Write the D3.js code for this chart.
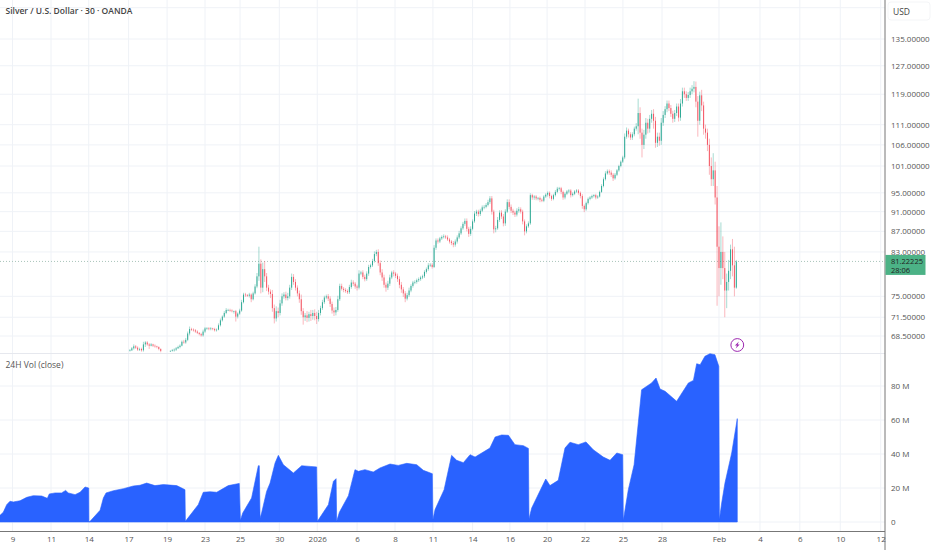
<!DOCTYPE html>
<html lang="en">

<head>
    <meta charset="UTF-8">
    <script src="https://cdnjs.cloudflare.com/ajax/libs/d3/7.9.0/d3.min.js"></script>
    <title>Silver / U.S. Dollar</title>
    <style>
        body {
            margin: 0;
            background-color: white;
            font-family: "Open Sans", sans-serif;
        }

        svg {
            display: block;
        }

        .axis text {
            fill: #555;
            font-size: 8px;
            font-family: "Open Sans", sans-serif;
        }

        .axis path,
        .axis line {
            display: none;
        }
    </style>
</head>

<body>
    <div id="content"></div>
    <script>
        const width = 932;
        const height = 550;

        // x axis runs in trading days counted from the "9" label
        const dateLabels = ["9", "11", "14", "17", "19", "23", "25", "30", "2026", "6", "8", "11", "14", "16", "20", "22", "25", "28", "Feb", "4", "6", "10", "12"];
        const dateTicks = [0, 2, 3.96, 6.03, 8.03, 10, 11.82, 13.86, 15.83, 17.9, 19.87, 21.84, 23.9, 25.84, 27.77, 29.74, 31.71, 33.74, 36.7, 38.83, 40.9, 43, 45.1];

        const priceTicks = [135, 127, 119, 111, 106, 101, 95, 91, 87, 83, 75, 71.5, 68.5];
        const volumeTicks = [0, 20, 40, 60, 80];
        const lastPrice = 81.22225;

        // one candle every 0.1 day, first one at day 6.1
        const candleStart = 6.1;
        const candleStep = 0.1;
        const closes = [
            66.3, 66.6, 66.9, 66.7, 66.4, 66.5, 66.3, 67.2, 67.5, 67.2,
            67.0, 67.2, 67.0, 66.9, 66.8, 66.5, 66.2, null, null, null,
            null, 66.2, 66.3, 66.4, 66.6, 66.8, 67.0, 67.6, 67.5, 67.9,
            68.9, 69.6, 69.5, 69.4, 69.2, 69.0, 68.8, 68.6, 69.2, 69.7,
            69.7, 69.6, 69.7, 69.6, 69.4, 69.5, 70.2, 71.0, 71.6, 72.2,
            72.7, 72.7, 72.6, 72.5, 72.5, 71.6, 72.1, 72.6, 74.0, 75.3,
            75.2, 75.1, 75.3, 74.5, 75.5, 76.7, 78.5, 80.8, 76.5, 79.8,
            78.5, 76.5, 75.8, 75.4, 73.0, 71.3, 72.5, 72.2, 73.8, 75.0,
            75.3, 74.7, 75.0, 76.5, 78.4, 77.5, 76.5, 75.5, 74.5, 72.5,
            71.5, 71.8, 71.4, 72.0, 71.7, 72.2, 71.7, 71.2, 72.2, 73.0,
            74.0, 74.8, 75.0, 74.6, 73.7, 72.6, 72.3, 72.7, 74.5, 76.8,
            76.3, 76.1, 75.9, 75.7, 76.6, 77.4, 77.2, 76.7, 76.5, 79.0,
            79.2, 78.4, 78.0, 79.0, 80.2, 80.5, 81.3, 82.6, 83.0, 80.9,
            79.2, 78.3, 77.0, 76.5, 77.2, 78.3, 79.2, 79.0, 78.6, 78.0,
            77.0, 76.2, 75.5, 74.6, 75.2, 76.0, 76.8, 77.4, 77.5, 77.8,
            78.0, 78.3, 78.5, 79.3, 79.8, 80.5, 80.6, 80.2, 83.8, 85.2,
            85.0, 85.6, 85.9, 86.0, 85.8, 85.4, 85.0, 84.7, 84.4, 85.0,
            85.8, 86.6, 87.6, 88.5, 89.1, 87.5, 86.5, 87.5, 89.0, 90.6,
            91.0, 90.5, 91.2, 91.9, 92.0, 92.4, 93.0, 93.8, 91.0, 87.4,
            87.6, 89.3, 90.8, 90.0, 88.6, 91.0, 93.0, 92.0, 91.2, 90.8,
            90.4, 91.2, 91.5, 91.0, 89.0, 87.0, 88.0, 88.6, 94.5, 94.0,
            94.2, 93.8, 93.9, 93.5, 93.3, 94.2, 94.6, 95.0, 94.3, 93.7,
            94.5, 95.2, 95.9, 96.0, 95.2, 94.0, 94.8, 95.3, 95.5, 94.5,
            94.8, 95.3, 95.5, 95.0, 94.3, 92.2, 91.5, 92.8, 93.7, 94.0,
            94.3, 94.5, 94.0, 94.2, 95.2, 96.5, 98.0, 99.3, 99.8, 99.5,
            99.0, 98.2, 99.0, 100.0, 101.0, 102.0, 103.0, 108.0, 109.5, 108.6,
            107.8, 108.6, 110.0, 110.6, 114.0, 109.0, 106.0, 108.5, 111.5, 110.0,
            112.5, 113.8, 112.0, 106.5, 108.0, 107.0, 111.5, 113.5, 115.0, 116.5,
            115.3, 113.8, 112.5, 114.0, 115.7, 112.8, 116.5, 119.8, 119.0, 118.0,
            118.8, 119.8, 120.5, 121.0, 117.0, 112.0, 118.7, 116.0, 110.0, 109.0,
            106.0, 101.0, 98.0, 100.0, 94.0, 84.0, 80.0, 83.0, 80.0, 76.0,
            77.5, 79.5, 83.5, 80.5, 76.5, 81.2
        ];
        const wickUp = [
            .2, .2, .3, .2, .2, .2, .2, .4, .2, .2,
            .2, .2, .1, .2, .1, .1, .1, 0, 0, 0,
            0, .1, .2, .2, .2, .2, .2, .2, .3, .3,
            .3, .4, .2, .2, .2, .2, .1, .2, .3, .2,
            .2, .2, .2, .1, .2, .2, .3, .3, .2, .3,
            .3, .2, .2, .2, .1, .2, .2, .3, .4, .3,
            .3, .2, .3, .2, .3, .4, .6, 3.2, .8, 1.2,
            1.5, .6, .5, .4, .7, .6, .8, .6, .6, .5,
            .4, .5, .6, .5, .6, .5, .5, .4, .5, .8,
            .5, .4, .7, .4, .7, .5, .6, .7, .5, .4,
            .4, .3, .3, .4, .4, .4, .5, .5, .6, .4,
            .4, .3, .3, .3, .4, .5, .4, .3, .3, .6,
            .3, .4, .4, .4, .4, .3, .4, .5, .4, .5,
            .5, .6, .5, .4, .5, .5, .3, .4, .3, .4,
            .5, .5, .4, .4, .4, .5, .3, .3, .3, .3,
            .3, .3, .3, .3, .3, .4, .3, .3, .5, .4,
            .4, .3, .3, .4, .3, .4, .3, .3, .4, .4,
            .4, .5, .4, .4, .5, .5, .4, .5, .4, .5,
            .4, .4, .4, .4, .4, .4, .5, .5, .5, .4,
            .5, .6, .5, .5, .5, .5, .6, .6, .5, .4,
            .4, .5, .5, .4, .4, .4, .4, .4, .4, .3,
            .3, .3, .2, .3, .3, .3, .3, .3, .3, .3,
            .3, .4, .4, .3, .3, .3, .3, .3, .3, .3,
            .3, .3, .3, .3, .3, .4, .3, .3, .3, .3,
            .3, .2, .3, .3, .3, .4, .4, .5, .4, .4,
            .5, .4, .4, .3, .3, .3, .4, .8, .8, .5,
            .5, .5, .5, .8, 3.8, 1.5, 1, 1.2, 1.2, 1,
            1, 1, 1.2, 1, 1, 1, 1.2, 1, .8, .8,
            .8, .8, .8, .8, .8, .8, 1.2, 1, 1, .8,
            .8, 1, 1, 1.6, 1.5, 1.5, 1, 1.5, 1, 1,
            1, 1.5, 2, 4, 2, 2.5, 4, 5.8, 3, 3,
            1.5, 2, .9, 2, 3.5, .3
        ];
        const wickDown = [
            .2, .1, .2, .2, .2, .2, .2, .2, .4, .2,
            .5, .1, .2, .2, .2, .2, .2, 0, 0, 0,
            0, .1, .1, .2, .2, .1, .2, .1, .2, .2,
            .2, .3, .2, .2, .2, .2, .2, .2, .2, .2,
            .2, .2, .2, .2, .2, .2, .1, .2, .2, .2,
            .2, .2, .2, .2, .4, .8, .3, .2, .2, .2,
            .3, .2, .3, .5, .2, .2, .3, .8, 1, .8,
            1, .6, .5, .7, .6, .8, .5, .7, .4, .4,
            .4, .4, .4, .4, .4, .5, .5, .5, .6, .6,
            1.2, .6, .7, .6, .8, .6, .7, .8, .4, .4,
            .3, .3, .3, .4, .5, .5, .6, .5, .3, .3,
            .3, .4, .3, .3, .3, .3, .4, .4, .5, .3,
            .3, .4, .4, .3, .4, .3, .3, .3, .4, .5,
            .5, .6, .5, .7, .4, .4, .3, .5, .4, .5,
            .6, .6, .6, .6, .3, .3, .3, .3, .3, .3,
            .3, .3, .3, .3, .3, .3, .3, .3, .2, .4,
            .4, .3, .3, .3, .3, .3, .4, .4, .5, .4,
            .4, .3, .3, .3, .4, .5, .6, .4, .3, .3,
            .5, .5, .4, .3, .4, .3, .3, .4, .6, .8,
            .6, .3, .4, .5, .6, .5, .3, .5, .5, .5,
            .5, .4, .4, .4, .6, .8, .4, .3, .3, .5,
            .5, .4, .4, .5, .3, .3, .3, .4, .5, .4,
            .3, .3, .3, .4, .5, .5, .4, .3, .4, .5,
            .3, .3, .3, .4, .5, .6, .6, .3, .3, .3,
            .3, .3, .4, .3, .2, .2, .3, .3, .3, .5,
            .5, .6, .3, .3, .3, .3, .3, .4, .5, .8,
            .6, .6, .5, .5, 2, 1.5, 3, 1, 1, 1.2,
            1, 1, 2, 1.2, 1, 1.2, 1, .8, .8, .8,
            .8, .8, 1, .8, .8, 1, .8, .8, 1, .8,
            .8, .8, .8, 1, 1.5, 4, 1, 1.5, 1.5, 1.5,
            1.5, 2, 1.5, 1.5, 1.5, 10.6, 5, 3, 2, 4.5,
            3, 1.5, 1.5, 2, 1.5, .2
        ];

        // 24H volume in millions
        const volumeDays = [
            -0.65, -0.48, -0.3, -0.13, 0.04, 0.39, 0.74, 1.08, 1.52, 1.81, 1.91, 2.21, 2.55, 2.76, 2.9, 3.25, 3.51, 3.77, 3.96,
            3.97, 4.03, 4.55, 4.72, 4.86, 5.24, 5.76, 6.28, 6.62, 6.97, 7.4, 7.84, 8.53, 8.79, 8.96,
            8.98, 9.05, 9.65, 9.91, 10.26, 10.61, 11.21, 11.78,
            11.84, 11.96, 12.42, 12.77, 12.82,
            12.86, 12.94, 13.2, 13.38, 13.64, 13.81, 14.07, 14.59, 15.02, 15.46, 15.8,
            15.84, 16.41, 16.67, 16.81,
            16.84, 16.98, 17.45, 17.79, 17.97, 18.31, 18.74, 19.09, 19.61, 20.04, 20.48, 21, 21.34, 21.81,
            21.84, 21.95, 22.42, 22.81, 23.07, 23.42, 23.77, 24.03, 24.8, 25.07, 25.41, 25.76, 26.1, 26.54, 26.8,
            26.83, 26.97, 27.7, 27.92, 28.35, 28.7, 28.96, 29.39, 29.79, 30.17, 30.69, 31.04, 31.39, 31.7,
            31.73, 31.99, 32.29, 32.68, 33.2, 33.43, 33.64, 33.9, 34.5, 35.11, 35.37, 35.54, 35.72, 35.97, 36.23, 36.49, 36.69,
            36.72, 36.84, 37.01, 37.36, 37.65
        ];
        const volumeValues = [
            3.9, 5.7, 10.2, 12.2, 11.8, 12.5, 14.5, 15.5, 15.3, 13.9, 16.5, 17.1, 17.1, 18.6, 17.1, 16.1, 17.5, 20.6, 20,
            0, 0.4, 6.9, 14.1, 17.1, 18.4, 19.6, 21.2, 21.6, 22.9, 21.4, 22, 21.4, 20, 19,
            0.4, 1.4, 10.2, 17.5, 17.8, 17.5, 21.4, 22.7,
            1, 5.3, 14.1, 33.1, 33.1,
            2.4, 5.3, 18, 22.9, 34.7, 39.2, 33.7, 28.8, 33.1, 32.7, 32.4,
            0.4, 10.2, 23.9, 25.5,
            0.4, 5.7, 15.5, 30.8, 29.8, 30.8, 29.4, 31.8, 34.1, 33.3, 34.5, 33.7, 30.4, 28.4,
            1.4, 7.3, 19, 39.2, 36.3, 34.9, 39.6, 38.2, 43.5, 50, 51.2, 51, 45.5, 44.9, 43.3,
            1.8, 8.2, 25.3, 21.4, 24.5, 43.5, 46.9, 45.5, 47.1, 42.5, 38.2, 36.3, 40.6, 39.6,
            1, 19, 33.7, 77.8, 81.8, 84.7, 78.2, 76.9, 71, 81.8, 83.3, 93.1, 92.5, 97.5, 99, 98.4, 91.6,
            1.4, 11.2, 22.9, 40.6, 60.8
        ];

        const up = "#089981";
        const down = "#f23645";
        const gridColor = "#eff2f7";
        const axisRight = 885;
        const paneSplit = 353.5;
        const axisBottom = 531.5;

        const x = d3.scaleLinear().domain([0, 45.1]).range([12.5, 880.7]);
        const yPrice = d3.scaleLog().domain([135, 68.5]).range([39, 336]);
        const yVolume = d3.scaleLinear().domain([0, 80]).range([522, 386]);

        const svg = d3.select("#content").append("svg")
            .attr("width", width)
            .attr("height", height);

        svg.append("clipPath").attr("id", "price-pane")
            .append("rect").attr("width", axisRight).attr("height", paneSplit);

        // Grid
        svg.append("g").selectAll("line")
            .data(dateTicks)
            .join("line")
            .attr("x1", d => x(d)).attr("x2", d => x(d))
            .attr("y1", 0).attr("y2", axisBottom)
            .attr("stroke", gridColor);

        svg.append("g").selectAll("line")
            .data([145].concat(priceTicks))
            .join("line")
            .attr("x1", 0).attr("x2", axisRight)
            .attr("y1", d => yPrice(d)).attr("y2", d => yPrice(d))
            .attr("stroke", gridColor);

        svg.append("g").selectAll("line")
            .data(volumeTicks)
            .join("line")
            .attr("x1", 0).attr("x2", axisRight)
            .attr("y1", d => yVolume(d)).attr("y2", d => yVolume(d))
            .attr("stroke", gridColor);

        svg.append("line")
            .attr("x1", 0).attr("x2", axisRight)
            .attr("y1", paneSplit).attr("y2", paneSplit)
            .attr("stroke", "#e6e8ee");

        // Last price line
        svg.append("line")
            .attr("x1", 0).attr("x2", axisRight)
            .attr("y1", yPrice(lastPrice)).attr("y2", yPrice(lastPrice))
            .attr("stroke", "#a9c4ba")
            .attr("stroke-dasharray", "1 2");

        // Candles
        const candles = closes.map((c, i) => {
            if (c === null) return null;
            const prev = closes[i - 1];
            const open = prev == null ? c : prev;
            return {
                t: candleStart + i * candleStep,
                open: open,
                close: c,
                high: Math.max(open, c) + wickUp[i],
                low: Math.min(open, c) - wickDown[i]
            };
        }).filter(d => d);

        const candleG = svg.append("g").attr("clip-path", "url(#price-pane)");
        candleG.selectAll("line")
            .data(candles)
            .join("line")
            .attr("x1", d => x(d.t)).attr("x2", d => x(d.t))
            .attr("y1", d => yPrice(d.high)).attr("y2", d => yPrice(d.low))
            .attr("stroke", d => d.close >= d.open ? up : down)
            .attr("stroke-opacity", 0.6)
            .attr("stroke-width", 0.6);
        candleG.selectAll("rect")
            .data(candles)
            .join("rect")
            .attr("x", d => x(d.t) - 0.5)
            .attr("width", 1)
            .attr("y", d => yPrice(Math.max(d.open, d.close)))
            .attr("height", d => Math.max(0.7, Math.abs(yPrice(d.open) - yPrice(d.close))))
            .attr("fill", d => d.close >= d.open ? up : down)
            .attr("fill-opacity", 0.75);

        // Volume area
        const volume = volumeDays.map((t, i) => ({ t: t, v: volumeValues[i] }));
        const area = d3.area()
            .x(d => x(d.t))
            .y0(yVolume(0))
            .y1(d => yVolume(d.v));
        svg.append("path")
            .datum(volume)
            .attr("d", area)
            .attr("fill", "#2962ff")
            .attr("stroke", "#2962ff")
            .attr("stroke-width", 0.6);

        // Axis borders
        svg.append("line")
            .attr("x1", axisRight).attr("x2", axisRight)
            .attr("y1", 0).attr("y2", height)
            .attr("stroke", "#777");
        svg.append("line")
            .attr("x1", 0).attr("x2", axisRight)
            .attr("y1", axisBottom).attr("y2", axisBottom)
            .attr("stroke", "#777");

        // Axes
        svg.append("g")
            .attr("class", "axis")
            .attr("transform", `translate(0, ${axisBottom})`)
            .call(d3.axisBottom(x)
                .tickValues(dateTicks)
                .tickFormat((d, i) => dateLabels[i])
                .tickSize(0)
                .tickPadding(5));

        svg.append("g")
            .attr("class", "axis")
            .attr("transform", `translate(${axisRight}, 0)`)
            .call(d3.axisRight(yPrice)
                .tickValues(priceTicks)
                .tickFormat(d3.format(".5f"))
                .tickSize(0)
                .tickPadding(6));

        svg.append("g")
            .attr("class", "axis")
            .attr("transform", `translate(${axisRight}, 0)`)
            .call(d3.axisRight(yVolume)
                .tickValues(volumeTicks)
                .tickFormat(d => d === 0 ? "0" : d + " M")
                .tickSize(0)
                .tickPadding(6));

        // Last price label
        const yLast = yPrice(lastPrice);
        svg.append("rect")
            .attr("x", axisRight + 0.5).attr("y", yLast - 6.5)
            .attr("width", 40).attr("height", 20)
            .attr("fill", "#4cb286");
        svg.append("text")
            .attr("x", axisRight + 6).attr("y", yLast + 3)
            .attr("fill", "#222").attr("font-size", 7.5)
            .text(d3.format(".5f")(lastPrice));
        svg.append("text")
            .attr("x", axisRight + 6).attr("y", yLast + 11.5)
            .attr("fill", "#222").attr("font-size", 7.5)
            .text("28:06");

        // USD button
        svg.append("rect")
            .attr("x", axisRight + 3).attr("y", 2)
            .attr("width", 42).attr("height", 18)
            .attr("rx", 3)
            .attr("fill", "white")
            .attr("stroke", "#f4f5f7");
        svg.append("text")
            .attr("x", axisRight + 8).attr("y", 14.5)
            .attr("fill", "#444").attr("font-size", 8.5)
            .text("USD");

        // Titles
        svg.append("text")
            .attr("x", 5.5).attr("y", 14)
            .attr("fill", "#444")
            .attr("font-size", 8.5)
            .attr("font-weight", 600)
            .text("Silver / U.S. Dollar · 30 · OANDA");
        svg.append("text")
            .attr("x", 5.5).attr("y", 368)
            .attr("fill", "#555")
            .attr("font-size", 8.5)
            .text("24H Vol (close)");

        // Flash icon next to the last candle
        const flash = svg.append("g")
            .attr("transform", `translate(${x(37.65)}, 345)`);
        flash.append("circle")
            .attr("r", 6.4)
            .attr("fill", "white")
            .attr("stroke", "#9c27b0")
            .attr("stroke-width", 1);
        flash.append("path")
            .attr("d", "M1.6,-3.4 L-2.4,0.6 L-0.3,0.6 L-1.6,3.4 L2.4,-0.6 L0.3,-0.6 Z")
            .attr("fill", "#9c27b0");
    </script>
</body>

</html>
